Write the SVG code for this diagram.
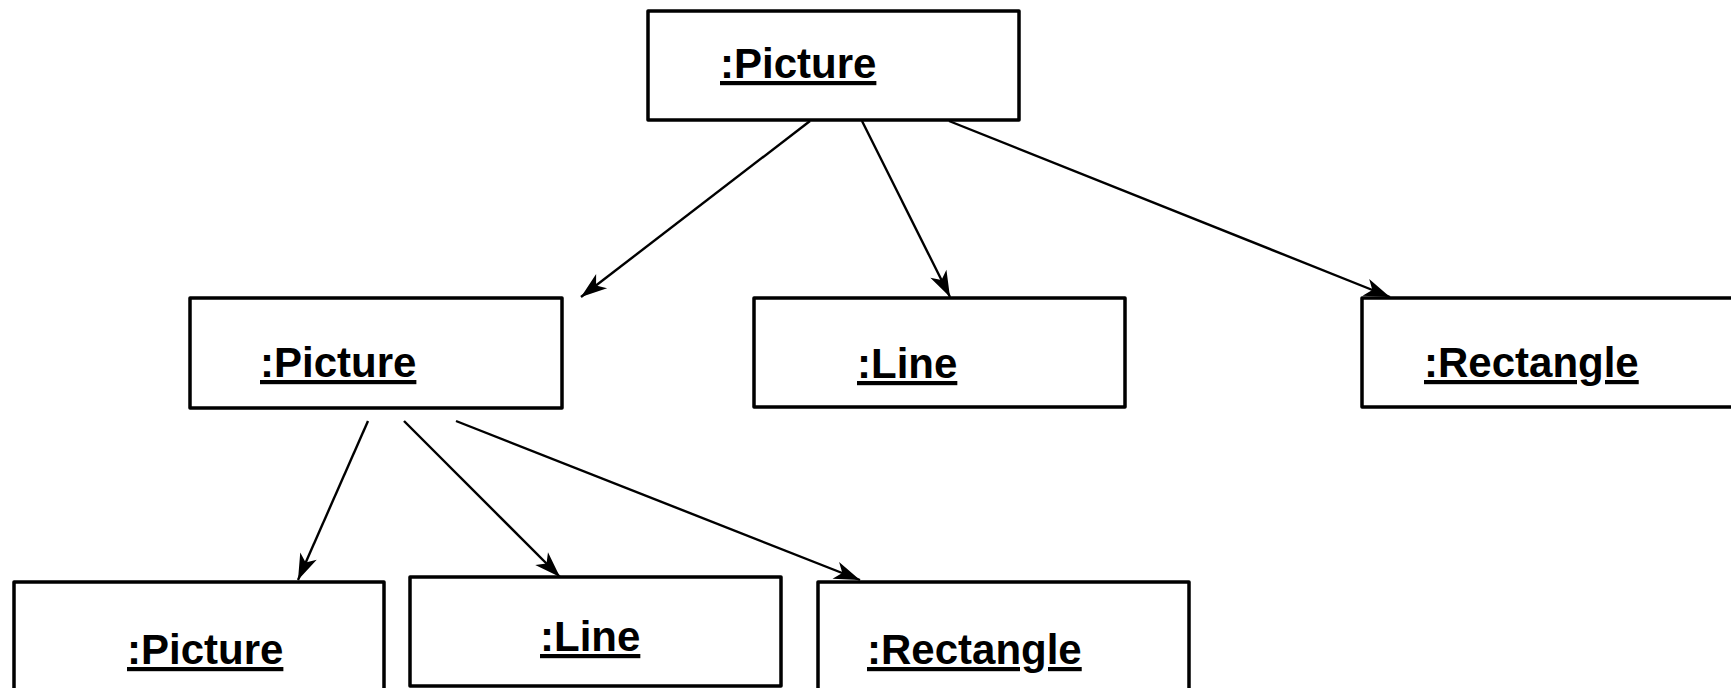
<svg xmlns="http://www.w3.org/2000/svg" width="1731" height="688" viewBox="0 0 1731 688">
<style>
.box{fill:#fff;stroke:#000;stroke-width:3.5;stroke-linejoin:round}
.lbl{font-family:"Liberation Sans",Arial,sans-serif;font-weight:bold;font-size:42px;fill:#000;text-decoration:underline}
.conn{stroke:#000;stroke-width:2.4;fill:none}
</style>
<defs>
<marker id="arr" markerUnits="userSpaceOnUse" markerWidth="32" markerHeight="22" viewBox="-28 -11 30 22" refX="0" refY="0" orient="auto">
<path d="M0,0 L-26,-9 L-19,0 L-26,9 Z" fill="#000"/>
</marker>
</defs>
<rect width="1731" height="688" fill="#fff"/>
<g id="connectors">
<line class="conn" x1="810" y1="121" x2="581" y2="297" marker-end="url(#arr)"/>
<line class="conn" x1="862" y1="121" x2="950" y2="297" marker-end="url(#arr)"/>
<line class="conn" x1="949" y1="121" x2="1390" y2="297" marker-end="url(#arr)"/>
<line class="conn" x1="368" y1="421" x2="298" y2="580" marker-end="url(#arr)"/>
<line class="conn" x1="404" y1="421" x2="560" y2="577" marker-end="url(#arr)"/>
<line class="conn" x1="456" y1="421" x2="860" y2="580" marker-end="url(#arr)"/>
</g>
<g id="top-picture">
<rect class="box" x="648" y="11" width="371" height="109"/>
<text class="lbl" x="720" y="78">:Picture</text>
</g>
<g id="mid-picture">
<rect class="box" x="190" y="298" width="372" height="110"/>
<text class="lbl" x="260" y="377">:Picture</text>
</g>
<g id="mid-line">
<rect class="box" x="754" y="298" width="371" height="109"/>
<text class="lbl" x="857" y="378">:Line</text>
</g>
<g id="mid-rectangle">
<rect class="box" x="1362" y="298" width="372" height="109"/>
<text class="lbl" x="1424" y="377">:Rectangle</text>
</g>
<g id="bottom-picture">
<rect class="box" x="14" y="582" width="370" height="112"/>
<text class="lbl" x="127" y="664">:Picture</text>
</g>
<g id="bottom-line">
<rect class="box" x="410" y="577" width="371" height="109"/>
<text class="lbl" x="540" y="651">:Line</text>
</g>
<g id="bottom-rectangle">
<rect class="box" x="818" y="582" width="371" height="112"/>
<text class="lbl" x="867" y="664">:Rectangle</text>
</g>
</svg>
